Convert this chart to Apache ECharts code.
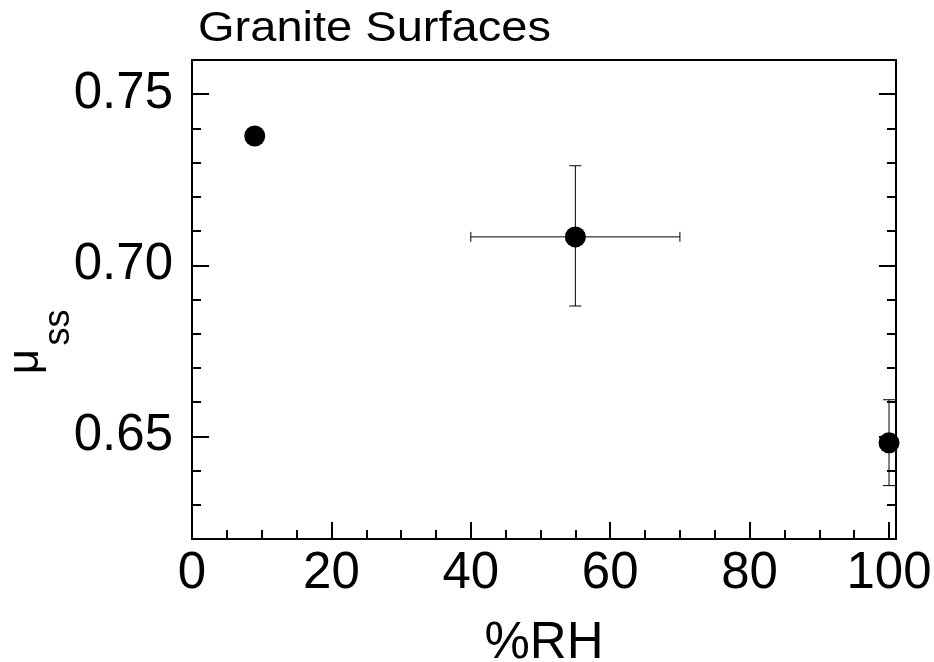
<!DOCTYPE html>
<html>
<head>
<meta charset="utf-8">
<script src="https://cdn.jsdelivr.net/npm/echarts@6/dist/echarts.min.js"></script>
<style>
html,body{margin:0;padding:0;background:#fff;}
#chart{width:934px;height:662px;}
</style>
</head>
<body>
<div id="chart"></div>
<script>
// ---- data ----
const rh = [9, 55, 100];
const mu = [0.7378, 0.7083, 0.6481];
const rhLow = [null, 40, null];
const rhHigh = [null, 70, null];
const muLow = [null, 0.6881, 0.6356];
const muHigh = [null, 0.7291, 0.6607];

const xMajorTicks = [0, 20, 40, 60, 80, 100];
const xMinorTicks = [5, 10, 15, 25, 30, 35, 45, 50, 55, 65, 70, 75, 85, 90, 95];
const yMajorTicks = [0.65, 0.70, 0.75];
const yMinorTicks = [0.63, 0.64, 0.66, 0.67, 0.68, 0.69, 0.71, 0.72, 0.73, 0.74];

const titleText = 'Granite Surfaces';
const xName = '%RH';
const yNameMain = 'μ';
const yNameSub = 'ss';

const X_MIN = 0, X_MAX = 101, Y_MIN = 0.62, Y_MAX = 0.76;
const FONT = '"Liberation Sans", Arial, Helvetica, sans-serif';

const points = rh.map((x, i) => [x, mu[i]]);
const yErr = [];
const xErr = [];
rh.forEach((x, i) => {
  if (muLow[i] != null) yErr.push([x, mu[i], muLow[i], muHigh[i]]);
  if (rhLow[i] != null) xErr.push([x, mu[i], rhLow[i], rhHigh[i]]);
});

function tickAxis(pos, vals, len, isX, extra) {
  const a = {
    type: 'value',
    position: pos,
    min: isX ? X_MIN : Y_MIN,
    max: isX ? X_MAX : Y_MAX,
    splitLine: {show: false},
    axisLine: {show: false},
    axisTick: {show: true, inside: true, length: len, customValues: vals,
      lineStyle: {color: '#000', width: 2}},
    axisLabel: {show: false}
  };
  return Object.assign(a, extra || {});
}

const chart = echarts.init(document.getElementById('chart'), null, {renderer: 'canvas'});

const option = {
  animation: false,
  backgroundColor: '#fff',
  grid: {
    left: 192, right: 38, top: 60, bottom: 123,
    show: true, borderColor: '#000', borderWidth: 2, backgroundColor: 'transparent',
    outerBoundsMode: 'none'
  },
  graphic: [
    {type: 'text', x: 198, y: 8, scaleX: 1.12, style: {text: titleText, font: '42px ' + FONT, fill: '#000', verticalAlign: 'top', align: 'left'}},
    {type: 'text', x: 25.4, y: 361.5, rotation: Math.PI / 2, style: {text: yNameMain, font: '44px ' + FONT, fill: '#000', align: 'center', verticalAlign: 'middle'}},
    {type: 'text', x: 58.8, y: 327.5, rotation: Math.PI / 2, style: {text: yNameSub, font: '36px ' + FONT, fill: '#000', align: 'center', verticalAlign: 'middle'}}
  ],
  xAxis: [
    tickAxis('bottom', xMajorTicks, 17, true, {
      name: xName, nameLocation: 'middle', nameGap: 79,
      nameTextStyle: {fontSize: 51, fontFamily: FONT, color: '#000'},
      axisLabel: {show: true, customValues: xMajorTicks, margin: 9, fontSize: 51, fontFamily: FONT, color: '#000',
        formatter: v => String(v)}
    }),
    tickAxis('bottom', xMinorTicks, 9, true)
  ],
  yAxis: [
    tickAxis('left', yMajorTicks, 17, false, {
      axisLabel: {show: true, customValues: yMajorTicks, margin: 19, fontSize: 51, fontFamily: FONT, color: '#000',
        padding: [0, 0, 20, 0], formatter: v => v.toFixed(2)}
    }),
    tickAxis('left', yMinorTicks, 9, false),
    tickAxis('right', yMajorTicks, 17, false),
    tickAxis('right', yMinorTicks, 9, false)
  ],
  series: [
    {
      type: 'custom', xAxisIndex: 0, yAxisIndex: 0, z: 2,
      data: yErr,
      renderItem: function (params, api) {
        const x = api.value(0);
        const top = api.coord([x, api.value(3)]);
        const bot = api.coord([x, api.value(2)]);
        const cap = 6;
        const st = {stroke: '#000', lineWidth: 1};
        return {type: 'group', children: [
          {type: 'line', shape: {x1: top[0], y1: top[1], x2: bot[0], y2: bot[1]}, style: st},
          {type: 'line', shape: {x1: top[0] - cap, y1: top[1], x2: top[0] + cap, y2: top[1]}, style: st},
          {type: 'line', shape: {x1: bot[0] - cap, y1: bot[1], x2: bot[0] + cap, y2: bot[1]}, style: st}
        ]};
      }
    },
    {
      type: 'custom', xAxisIndex: 0, yAxisIndex: 0, z: 2,
      data: xErr,
      renderItem: function (params, api) {
        const y = api.value(1);
        const l = api.coord([api.value(2), y]);
        const r = api.coord([api.value(3), y]);
        const cap = 5;
        const st = {stroke: '#000', lineWidth: 1};
        return {type: 'group', children: [
          {type: 'line', shape: {x1: l[0], y1: l[1], x2: r[0], y2: r[1]}, style: st},
          {type: 'line', shape: {x1: l[0], y1: l[1] - cap, x2: l[0], y2: l[1] + cap}, style: st},
          {type: 'line', shape: {x1: r[0], y1: r[1] - cap, x2: r[0], y2: r[1] + cap}, style: st}
        ]};
      }
    },
    {
      type: 'scatter', xAxisIndex: 0, yAxisIndex: 0, z: 5,
      symbol: 'circle', symbolSize: 21,
      itemStyle: {color: '#000', opacity: 1},
      data: points
    }
  ]
};
chart.setOption(option);
</script>
</body>
</html>
